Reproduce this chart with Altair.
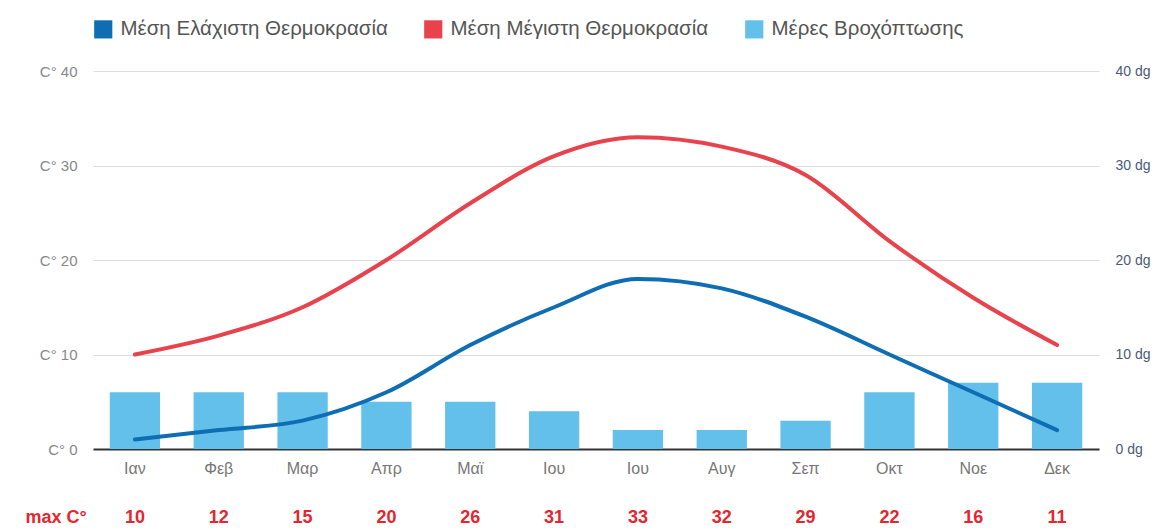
import altair as alt
import pandas as pd

months = ["Ιαν", "Φεβ", "Μαρ", "Απρ", "Μαϊ", "Ιου", "Ιου", "Αυγ", "Σεπ", "Οκτ", "Νοε", "Δεκ"]
min_temp = [1, 2, 3, 6, 11, 15, 18, 17, 14, 10, 6, 2]
max_temp = [10, 12, 15, 20, 26, 31, 33, 32, 29, 22, 16, 11]
rain_days = [6, 6, 6, 5, 5, 4, 2, 2, 3, 6, 7, 7]
y_ticks = [0, 10, 20, 30, 40]

S_MIN = "Μέση Ελάχιστη Θερμοκρασία"
S_MAX = "Μέση Μέγιστη Θερμοκρασία"
S_RAIN = "Μέρες Βροχόπτωσης"

C_MIN = "#0e6db3"
C_MAX = "#e8424c"
C_RAIN = "#62c0ea"
C_TXT = "#e3262f"

idx = list(range(len(months)))
temps = pd.DataFrame({
    "i": idx * 2,
    "t": min_temp + max_temp,
    "series": [S_MIN] * 12 + [S_MAX] * 12,
})
rain = pd.DataFrame({"i": idx, "rain": rain_days, "series": [S_RAIN] * 12})
maxlab = pd.DataFrame({"i": idx, "max": max_temp})
rowlab = pd.DataFrame({"t": ["max C°"]})

W, H = 1006, 378
FONT = "Liberation Sans"

label_expr = "[" + ",".join(f"'{m}'" for m in months) + "][datum.value]"

x = alt.X(
    "i:O",
    scale=alt.Scale(paddingInner=0.4, paddingOuter=0.2),
    axis=alt.Axis(
        title=None, labelExpr=label_expr, labelAngle=0, ticks=False,
        domainColor="#333333", domainWidth=2, labelPadding=11,
        labelColor="#777777", labelFontSize=16, labelFont=FONT,
    ),
)

color_scale = alt.Scale(domain=[S_MIN, S_MAX, S_RAIN], range=[C_MIN, C_MAX, C_RAIN])

bars = alt.Chart(rain).mark_bar().encode(
    x=x,
    y=alt.Y(
        "rain:Q",
        scale=alt.Scale(domain=[0, 40]),
        axis=alt.Axis(
            title=None, orient="right", values=y_ticks, grid=False, ticks=False,
            domain=False, labelExpr="datum.value + ' dg'", labelColor="#4b5a7a",
            labelFontSize=14, labelPadding=16, labelFont=FONT,
        ),
    ),
    color=alt.Color(
        "series:N", scale=color_scale,
        legend=alt.Legend(
            title=None, orient="none", legendX=0, legendY=-52, direction="horizontal",
            symbolType="square", symbolSize=330, symbolStrokeWidth=0,
            labelFontSize=20.5, labelFont=FONT, labelColor="#555555", labelLimit=500,
            labelOffset=7, columnPadding=35, padding=0,
        ),
    ),
)

lines = alt.Chart(temps).mark_line(
    strokeWidth=4, interpolate="monotone", strokeCap="round"
).encode(
    x=x,
    y=alt.Y(
        "t:Q",
        scale=alt.Scale(domain=[0, 40]),
        axis=alt.Axis(
            title=None, orient="left", values=y_ticks, grid=True, gridColor="#dddddd",
            ticks=False, domain=False, labelExpr="'C° ' + datum.value",
            labelColor="#888888", labelFontSize=15, labelPadding=16, labelFont=FONT,
        ),
    ),
    color=alt.Color("series:N", scale=color_scale, legend=None),
    detail="series:N",
)

nums = alt.Chart(maxlab).mark_text(
    fontSize=18, fontWeight="bold", color=C_TXT, font=FONT, baseline="middle"
).encode(x=x, y=alt.value(H + 69), text="max:Q")

rowtext = alt.Chart(rowlab).mark_text(
    fontSize=18, fontWeight="bold", color=C_TXT, font=FONT, baseline="middle"
).encode(x=alt.value(-37), y=alt.value(H + 69), text="t:N")

chart = alt.layer(bars, lines, nums, rowtext).resolve_scale(
    y="independent"
).properties(
    width=W, height=H, background="white",
    padding={"top": 11, "left": 17, "right": 0, "bottom": 0},
).configure_view(stroke=None)

chart.save("out.html", embed_options={"renderer": "svg", "actions": False})
